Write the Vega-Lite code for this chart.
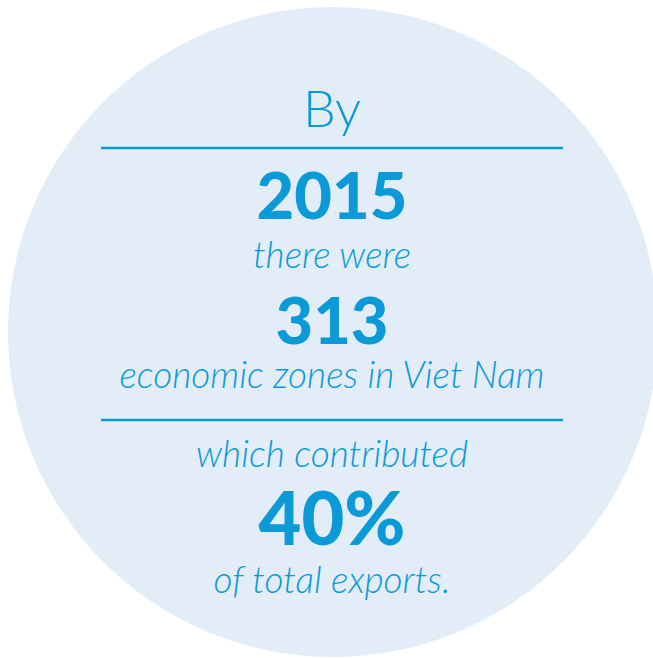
{
  "$schema": "https://vega.github.io/schema/vega-lite/v6.json",
  "width": 653,
  "height": 658,
  "autosize": {"type": "none"},
  "padding": 0,
  "background": "#ffffff",
  "config": {"view": {"stroke": null}},
  "datasets": {
    "circle": [{"cx": 333, "cy": 332}],
    "rules": [
      {"x1": 101, "x2": 563, "y": 148},
      {"x1": 101, "x2": 563, "y": 420}
    ],
    "texts": [
      {"label": "By", "style": "title", "x": 332, "y": 127},
      {"label": "2015", "style": "big", "x": 332, "y": 219},
      {"label": "there were", "style": "italic", "x": 332, "y": 268},
      {"label": "313", "style": "big", "x": 332, "y": 344},
      {"label": "economic zones in Viet Nam", "style": "italic", "x": 332, "y": 388},
      {"label": "which contributed", "style": "italic", "x": 332, "y": 467},
      {"label": "40%", "style": "pct", "x": 332, "y": 545},
      {"label": "of total exports.", "style": "italic", "x": 332, "y": 593}
    ]
  },
  "layer": [
    {
      "data": {"name": "circle"},
      "mark": {"type": "point", "shape": "circle", "filled": true, "size": 422500, "color": "#e2edf8", "opacity": 1, "clip": true},
      "encoding": {
        "x": {"field": "cx", "type": "quantitative", "scale": {"domain": [0, 653], "nice": false}, "axis": null},
        "y": {"field": "cy", "type": "quantitative", "scale": {"domain": [0, 658], "nice": false, "reverse": true}, "axis": null}
      }
    },
    {
      "data": {"name": "rules"},
      "mark": {"type": "rule", "color": "#0b9ad8", "strokeWidth": 2.5},
      "encoding": {
        "x": {"field": "x1", "type": "quantitative"},
        "x2": {"field": "x2"},
        "y": {"field": "y", "type": "quantitative"}
      }
    },
    {
      "data": {"name": "texts"},
      "transform": [{"filter": "datum.style === 'title'"}],
      "mark": {"type": "text", "font": "Lato", "fontWeight": 300, "fontSize": 52, "color": "#0b9ad8", "align": "center", "baseline": "alphabetic"},
      "encoding": {
        "x": {"field": "x", "type": "quantitative"},
        "y": {"field": "y", "type": "quantitative"},
        "text": {"field": "label"}
      }
    },
    {
      "data": {"name": "texts"},
      "transform": [{"filter": "datum.style === 'big'"}],
      "mark": {"type": "text", "font": "Lato", "fontWeight": 900, "fontSize": 65, "color": "#0b9ad8", "align": "center", "baseline": "alphabetic"},
      "encoding": {
        "x": {"field": "x", "type": "quantitative"},
        "y": {"field": "y", "type": "quantitative"},
        "text": {"field": "label"}
      }
    },
    {
      "data": {"name": "texts"},
      "transform": [{"filter": "datum.style === 'pct'"}],
      "mark": {"type": "text", "font": "Lato", "fontWeight": 900, "fontSize": 74, "color": "#0b9ad8", "align": "center", "baseline": "alphabetic"},
      "encoding": {
        "x": {"field": "x", "type": "quantitative"},
        "y": {"field": "y", "type": "quantitative"},
        "text": {"field": "label"}
      }
    },
    {
      "data": {"name": "texts"},
      "transform": [{"filter": "datum.style === 'italic'"}],
      "mark": {"type": "text", "font": "Lato", "fontWeight": 300, "fontStyle": "italic", "fontSize": 37, "color": "#0b9ad8", "align": "center", "baseline": "alphabetic"},
      "encoding": {
        "x": {"field": "x", "type": "quantitative"},
        "y": {"field": "y", "type": "quantitative"},
        "text": {"field": "label"}
      }
    }
  ]
}
